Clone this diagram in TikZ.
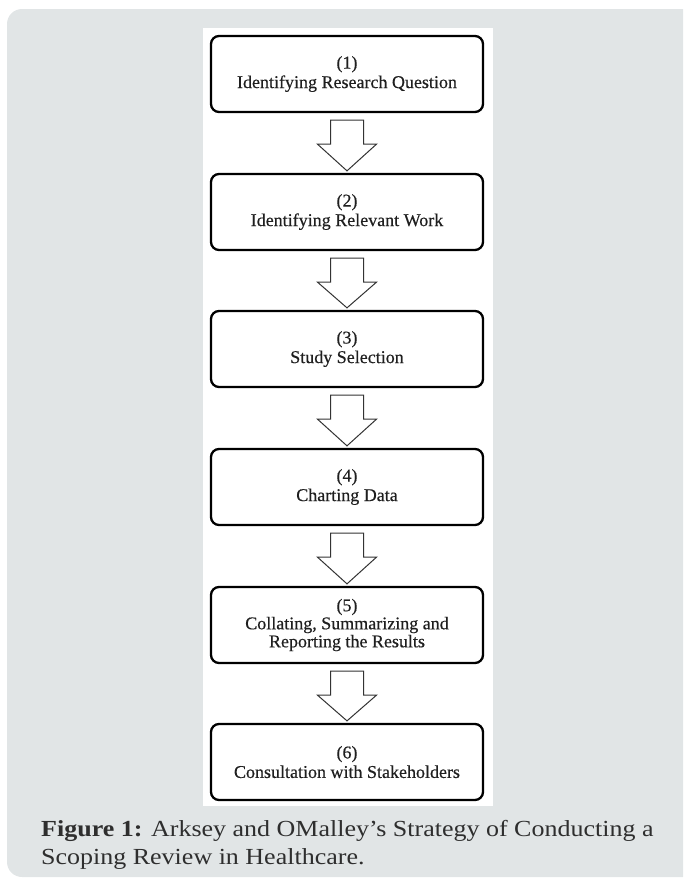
\documentclass[tikz,border=0pt]{standalone}
\usepackage{fontspec}
\setmainfont{Liberation Serif}
\newfontfamily\capfont[FakeStretch=1.13]{Liberation Serif}
\newfontfamily\boxfont[FakeBold=0.35]{Liberation Serif}
\usetikzlibrary{calc}
\definecolor{panelgray}{HTML}{E1E5E6}
\definecolor{captext}{HTML}{2E2E2E}
\tikzset{
  stepbox/.style={draw=black, line width=2.3pt, rounded corners=8pt, minimum width=272pt, minimum height=76pt, inner sep=0pt, align=center, font=\boxfont\fontsize{18}{19.5}\selectfont, text=black!88, fill=white},
  blockarrow/.style={draw=black!80, line width=1pt, fill=white, line join=miter},
  captext/.style={anchor=base west, inner sep=0pt, font=\capfont\fontsize{23}{28}\selectfont, text=captext}
}
\newcommand\flowarrow[2]{%
  \draw[blockarrow] ($(#1.south)+(-16.5,7)$) -- ($(#1.south)+(16.5,7)$) -- ($(#1.south)+(16.5,31)$) -- ($(#1.south)+(29.5,31)$) -- ($(#2.north)+(0,-2)$) -- ($(#1.south)+(-29.5,31)$) -- ($(#1.south)+(-16.5,31)$) -- cycle;}
\begin{document}
\begin{tikzpicture}[x=1pt,y=-1pt]
\useasboundingbox (0,0) rectangle (683,881);
\begin{scope}
\clip (0,0) rectangle (683,881);
\fill[panelgray, rounded corners=15pt] (7,9) rectangle (720,877);
\end{scope}
\fill[white] (203,28) rectangle (493,806);
\node[stepbox] (b1) at (347,74) {(1)\\Identifying Research Question};
\node[stepbox] (b2) at (347,212) {(2)\\Identifying Relevant Work};
\node[stepbox] (b3) at (347,349) {(3)\\Study Selection};
\node[stepbox] (b4) at (347,487) {(4)\\Charting Data};
\node[stepbox, font=\boxfont\fontsize{18}{18}\selectfont] (b5) at (347,625) {(5)\\Collating, Summarizing and\\Reporting the Results};
\node[stepbox] (b6) at (347,762) {(6)\\Consultation with Stakeholders};
\flowarrow{b1}{b2}
\flowarrow{b2}{b3}
\flowarrow{b3}{b4}
\flowarrow{b4}{b5}
\flowarrow{b5}{b6}
\node[captext] (cap1) at (41,836) {\textbf{Figure 1:} Arksey and OMalley’s Strategy of Conducting a};
\node[captext] (cap2) at (41,864) {Scoping Review in Healthcare.};
\end{tikzpicture}
\end{document}
